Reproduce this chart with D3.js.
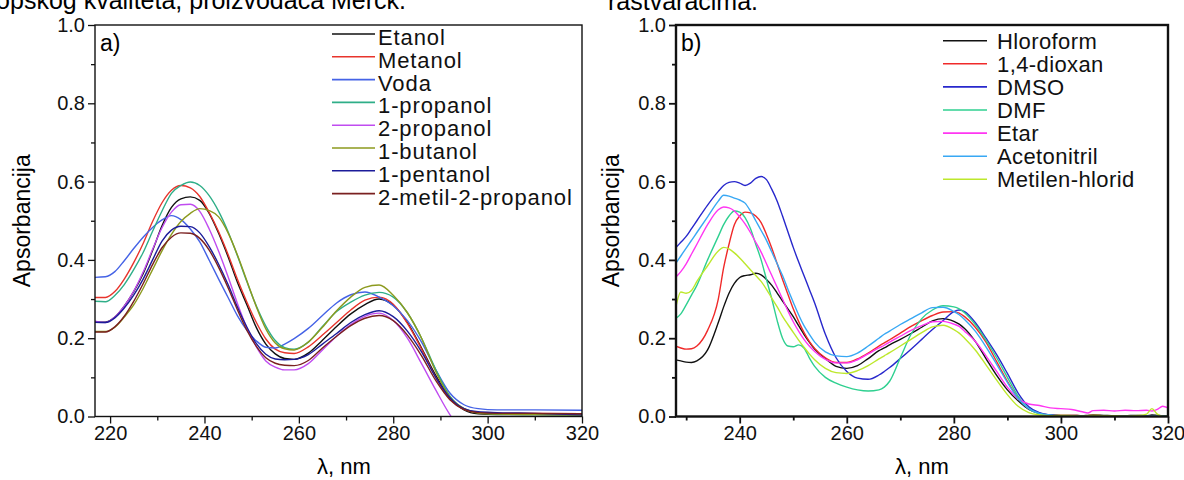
<!DOCTYPE html>
<html>
<head>
<meta charset="utf-8">
<script src="https://cdn.jsdelivr.net/npm/d3@7"></script>
<style>
  body { margin: 0; background: #fff; }
  svg { display: block; }
</style>
</head>
<body>
<div id="chart-area"></div>
<script>
const WIDTH = 1184;
const HEIGHT = 480;
const FONT = '"Liberation Sans", Arial, sans-serif';
const PLOT_TOP = 25;
const PLOT_BOTTOM = 416.5;

// ---- a) alkoholi i voda ----
const wlA = [216, 219, 221, 223, 225, 227, 229, 231, 233, 235, 237, 239, 241, 243, 245, 247, 249, 251, 253, 255, 257, 259,
             262, 265, 268, 271, 274, 277, 280, 283, 286, 289, 292, 295, 298, 302, 310, 320];
const etanol = [.242, .241, .254, .282, .319, .365, .424, .487, .534, .556, .561, .552, .519, .468, .408, .342, .285, .227, .185, .16, .148, .146,
                .162, .195, .23, .262, .286, .3, .284, .24, .175, .105, .048, .017, .007, .005, .005, .004];
const metanol = [.304, .304, .319, .351, .393, .442, .498, .546, .578, .59, .584, .562, .521, .472, .414, .35, .292, .24, .198, .172, .163, .161,
                 .178, .208, .24, .272, .297, .305, .287, .238, .172, .1, .045, .018, .01, .008, .008, .007];
const voda = [.355, .357, .37, .398, .429, .458, .483, .502, .513, .503, .479, .446, .399, .351, .304, .257, .22, .193, .177, .175, .185, .199,
              .225, .258, .29, .311, .318, .305, .283, .245, .19, .12, .06, .03, .02, .017, .017, .016];
const propanol1 = [.295, .293, .309, .337, .375, .419, .473, .525, .57, .59, .599, .59, .564, .524, .472, .41, .344, .282, .231, .194, .176, .172,
                   .19, .23, .268, .292, .31, .317, .305, .265, .2, .12, .052, .02, .01, .006, .005, .004];
const propanol2 = [.245, .24, .254, .282, .32, .369, .427, .482, .522, .541, .542, .524, .479, .422, .357, .288, .226, .178, .142, .126, .119, .119,
                   .135, .17, .205, .235, .256, .264, .245, .2, .135, .068, .005, -.04, null, null, null, null];
const butanol1 = [.217, .217, .228, .254, .285, .327, .375, .423, .465, .498, .519, .531, .526, .51, .469, .412, .346, .28, .224, .188, .173, .17,
                  .19, .228, .27, .305, .33, .336, .31, .265, .2, .115, .05, .02, .009, .006, .005, .004];
const pentanol1 = [.241, .24, .252, .277, .31, .351, .4, .448, .476, .486, .485, .469, .434, .389, .337, .279, .228, .186, .159, .147, .145, .146,
                   .158, .185, .212, .24, .26, .27, .255, .218, .165, .1, .048, .02, .012, .01, .008, .004];
const metilpropanol = [.216, .216, .229, .256, .294, .339, .388, .431, .458, .469, .468, .455, .425, .381, .329, .272, .22, .179, .15, .136, .131, .13,
                       .143, .175, .205, .232, .251, .258, .245, .208, .155, .092, .043, .018, .01, .008, .008, .007];
const namesA = ["Etanol", "Metanol", "Voda", "1-propanol", "2-propanol", "1-butanol", "1-pentanol", "2-metil-2-propanol"];
const valuesA = [etanol, metanol, voda, propanol1, propanol2, butanol1, pentanol1, metilpropanol];
const colorsA = ["#111111", "#e8342c", "#4563e6", "#2fae88", "#c04cf0", "#8c9a1e", "#1c1c9a", "#7a2020"];

// ---- b) ostali rastvaraci ----
const wlB = [228, 229, 230, 231, 232, 234, 236, 237, 238, 239, 240, 241, 242, 243, 244, 245, 246, 247, 248, 249, 250, 251, 252, 253, 254,
             256, 258, 260, 262, 264, 266, 267, 268, 270, 272, 274, 276, 278, 280, 281, 282, 284, 286, 288, 290, 292, 294, 296, 298, 300,
             302, 304, 305, 306, 308, 310, 312, 314, 316, 317, 318, 319, 320];
const hloroform = [.145, .142, .139, .138, .142, .17, .24, .28, .315, .34, .355, .36, .362, .366, .362, .35, .335, .315, .295, .275, .255, .232, .21, .19, .172,
                   .148, .128, .123, .13, .148, .168, .175, .183, .197, .212, .228, .244, .25, .243, .236, .225, .192, .148, .105, .068, .04, .018, .008, .004, .003,
                   .003, .002, .003, .004, .003, .002, .002, .003, .002, .004, .003, .002, .002];
const dioksan = [.18, .175, .172, .173, .18, .22, .3, .38, .44, .49, .512, .522, .52, .512, .495, .465, .43, .39, .35, .312, .275, .243, .215, .192, .174,
                 .15, .138, .138, .147, .162, .18, .188, .196, .213, .23, .245, .258, .267, .268, .264, .255, .228, .19, .14, .09, .048, .02, .008, .004, .003,
                 .003, .002, .002, .003, .002, .002, .002, .002, .002, .002, .002, .002, .002];
const dmso = [.43, .445, .46, .48, .5, .54, .575, .59, .598, .6, .596, .59, .596, .608, .613, .605, .58, .55, .512, .472, .432, .395, .36, .325, .29,
              .21, .15, .115, .098, .095, .106, .115, .125, .148, .172, .197, .222, .245, .268, .272, .268, .24, .2, .158, .11, .06, .025, .01, .004, .002,
              .001, .001, .001, .001, .001, .001, .001, .001, .001, .001, .001, .001, .001];
const dmf = [.25, .262, .285, .31, .335, .4, .46, .49, .512, .525, .522, .508, .48, .44, .4, .35, .3, .245, .2, .18, .178, .183, .175, .15, .128,
             .1, .085, .075, .068, .065, .068, .075, .09, .15, .21, .25, .272, .283, .28, .275, .265, .235, .195, .15, .1, .052, .02, .007, .003, .002,
             .001, .001, .001, .001, .001, .001, .001, .001, .001, .001, .001, .001, .001];
const etar = [.355, .37, .39, .415, .44, .49, .528, .535, .533, .525, .51, .492, .47, .445, .42, .39, .36, .33, .3, .27, .242, .218, .197, .18, .166,
              .146, .137, .137, .145, .16, .175, .182, .19, .205, .22, .232, .242, .243, .236, .23, .218, .192, .155, .115, .075, .045, .032, .028, .022, .02,
              .018, .012, .009, .015, .016, .014, .016, .015, .016, .014, .018, .026, .022];
const acetonitril = [.39, .41, .43, .45, .47, .51, .55, .565, .563, .558, .553, .545, .525, .5, .475, .45, .42, .39, .36, .325, .292, .26, .232, .21, .19,
                     .165, .155, .153, .162, .18, .2, .21, .218, .235, .25, .265, .278, .279, .268, .26, .248, .218, .178, .133, .087, .046, .02, .008, .004, .002,
                     .001, .001, .001, .001, .001, .001, .001, .001, .001, .001, .001, .001, .001];
const metilenhlorid = [.275, .318, .315, .322, .345, .385, .423, .432, .428, .418, .405, .39, .375, .36, .345, .325, .302, .28, .256, .235, .215, .195, .177, .16, .145,
                       .123, .112, .11, .117, .13, .147, .155, .163, .18, .197, .214, .229, .233, .222, .213, .2, .17, .132, .093, .056, .026, .01, .004, .002, .003,
                       .002, .001, .002, .003, .002, .002, .001, .002, .006, .02, .006, 0, .001];
const namesB = ["Hloroform", "1,4-dioxan", "DMSO", "DMF", "Etar", "Acetonitril", "Metilen-hlorid"];
const valuesB = [hloroform, dioksan, dmso, dmf, etar, acetonitril, metilenhlorid];
const colorsB = ["#111111", "#f02a2a", "#2828cc", "#2fd090", "#ff36f2", "#38a8f4", "#bde82c"];

const yMajor = [0, 0.2, 0.4, 0.6, 0.8, 1.0];
const yMinor = [0.1, 0.3, 0.5, 0.7, 0.9];


const svg = d3.select('#chart-area').append('svg')
    .attr("width", WIDTH)
    .attr("height", HEIGHT)
    .attr("viewBox", [0, 0, WIDTH, HEIGHT])
    .style("font-family", FONT)
    .style("background", "#fff");

// text from the page above the figure (cut by the top edge)
svg.append("text")
    .attr("x", 406).attr("y", 9)
    .attr("text-anchor", "end")
    .attr("font-size", 25)
    .text("spektroskopskog kvaliteta, proizvođača Merck.");
svg.append("text")
    .attr("x", 608).attr("y", 10)
    .attr("font-size", 25)
    .text("rastvaračima.");


function drawPanel(p) {
    const x = d3.scaleLinear().domain(p.xDomain).range([p.left, p.right]);
    const y = d3.scaleLinear().domain([0, 1]).range([PLOT_BOTTOM, PLOT_TOP]);
    const g = svg.append("g");

    g.append("clipPath").attr("id", p.id + "-clip")
        .append("rect")
        .attr("x", p.left).attr("y", PLOT_TOP)
        .attr("width", p.right - p.left).attr("height", PLOT_BOTTOM - PLOT_TOP);

    const styleAxis = sel => {
        sel.select(".domain").remove();
        sel.selectAll(".tick line").attr("stroke", "#111").attr("stroke-width", p.tickWidth);
        sel.selectAll(".tick text").attr("fill", "#111");
        sel.attr("font-family", FONT).attr("font-size", 20);
    };

    // x axis
    g.append("g").attr("transform", `translate(0,${PLOT_BOTTOM})`)
        .call(d3.axisBottom(x).tickValues(p.xMinor).tickSize(4).tickFormat(""))
        .call(styleAxis);
    g.append("g").attr("transform", `translate(0,${PLOT_BOTTOM})`)
        .call(d3.axisBottom(x).tickValues(p.xMajor).tickSize(7).tickPadding(2).tickFormat(d3.format("d")))
        .call(styleAxis);

    // y axis
    g.append("g").attr("transform", `translate(${p.left},0)`)
        .call(d3.axisLeft(y).tickValues(yMinor).tickSize(4).tickFormat(""))
        .call(styleAxis);
    g.append("g").attr("transform", `translate(${p.left},0)`)
        .call(d3.axisLeft(y).tickValues(yMajor).tickSize(7).tickPadding(3).tickFormat(d3.format(".1f")))
        .call(styleAxis);

    const line = d3.line()
        .defined(d => d.v != null)
        .x(d => x(d.w))
        .y(d => y(d.v))
        .curve(d3.curveMonotoneX);

    const series = p.names.map((name, i) => ({
        name: name,
        color: p.colors[i],
        values: p.wl.map((w, j) => ({w: w, v: p.values[i][j]}))
    }));

    g.append("g")
        .attr("clip-path", `url(#${p.id}-clip)`)
        .selectAll("path")
        .data(series)
        .join("path")
        .attr("fill", "none")
        .attr("stroke", d => d.color)
        .attr("stroke-width", 1.4)
        .attr("stroke-linejoin", "round")
        .attr("d", d => line(d.values));

    // frame
    g.append("rect")
        .attr("x", p.left).attr("y", PLOT_TOP)
        .attr("width", p.right - p.left).attr("height", PLOT_BOTTOM - PLOT_TOP)
        .attr("fill", "none")
        .attr("stroke", "#111")
        .attr("stroke-width", p.frameWidth);

    // legend
    const leg = g.append("g")
        .selectAll("g")
        .data(series)
        .join("g")
        .attr("transform", (d, i) => `translate(0,${p.legendTop + i * p.legendStep})`);
    leg.append("line")
        .attr("x1", p.legendX1).attr("x2", p.legendX2)
        .attr("stroke", d => d.color)
        .attr("stroke-width", 1.6);
    leg.append("text")
        .attr("x", p.legendText)
        .attr("y", p.legendDy)
        .attr("font-size", 22)
        .attr("letter-spacing", p.legendSpacing)
        .attr("fill", "#111")
        .text(d => d.name);

    g.append("text")
        .attr("x", p.left + 5).attr("y", 51)
        .attr("font-size", 23)
        .text(p.tag);

    g.append("text")
        .attr("transform", `translate(${p.yTitleX},${(PLOT_TOP + PLOT_BOTTOM) / 2}) rotate(-90)`)
        .attr("text-anchor", "middle")
        .attr("font-size", 23)
        .text("Apsorbancija");

    g.append("text")
        .attr("x", p.xTitleX).attr("y", 474)
        .attr("text-anchor", "middle")
        .attr("font-size", 22)
        .text("λ, nm");
}

drawPanel({
    id: "a", tag: "a)",
    left: 95, right: 582, xDomain: [216.8, 320],
    xMajor: [220, 240, 260, 280, 300, 320], xMinor: [230, 250, 270, 290, 310],
    wl: wlA, names: namesA, values: valuesA, colors: colorsA,
    frameWidth: 1.4, tickWidth: 1.3,
    legendTop: 34, legendStep: 22.8, legendX1: 332, legendX2: 375, legendText: 378, legendDy: 11, legendSpacing: 0.9,
    yTitleX: 30, xTitleX: 344
});

drawPanel({
    id: "b", tag: "b)",
    left: 676, right: 1168, xDomain: [228.1, 320],
    xMajor: [240, 260, 280, 300, 320], xMinor: [230, 250, 270, 290, 310],
    wl: wlB, names: namesB, values: valuesB, colors: colorsB,
    frameWidth: 2.4, tickWidth: 1.8,
    legendTop: 40.7, legendStep: 23.1, legendX1: 943, legendX2: 987, legendText: 997, legendDy: 8, legendSpacing: 0.4,
    yTitleX: 619, xTitleX: 922
});
</script>
</body>
</html>
